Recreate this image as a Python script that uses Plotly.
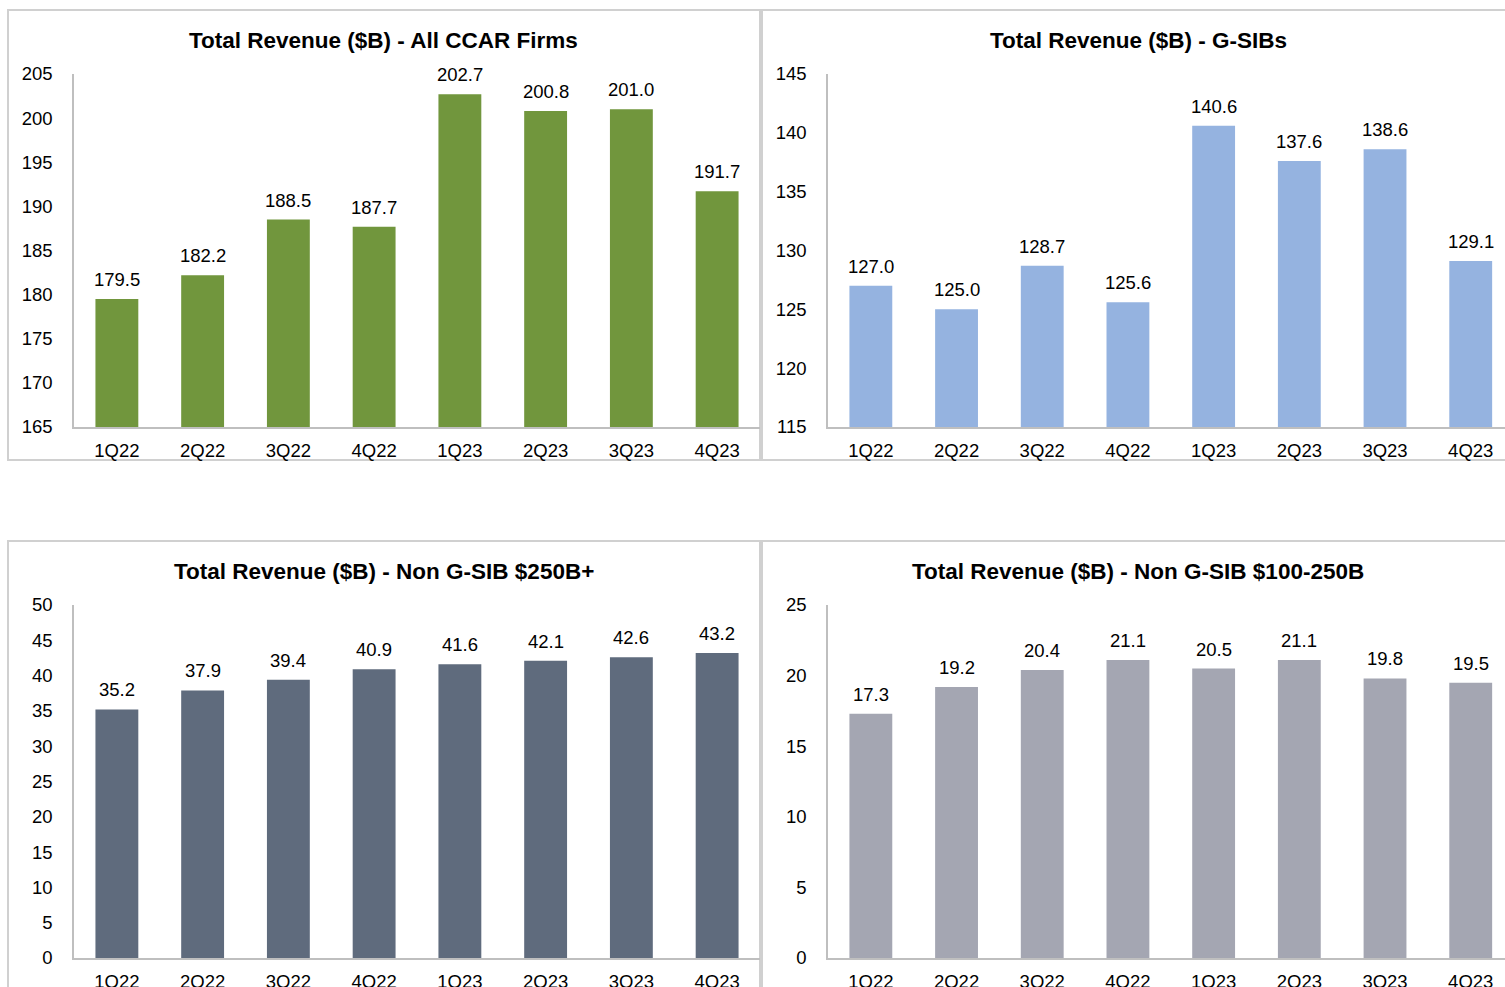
import plotly.graph_objects as go

W, H = 1505, 987

quarters = ["1Q22", "2Q22", "3Q22", "4Q22", "1Q23", "2Q23", "3Q23", "4Q23"]

all_ccar = [179.5, 182.2, 188.5, 187.7, 202.7, 200.8, 201.0, 191.7]
gsibs = [127.0, 125.0, 128.7, 125.6, 140.6, 137.6, 138.6, 129.1]
non_gsib_250 = [35.2, 37.9, 39.4, 40.9, 41.6, 42.1, 42.6, 43.2]
non_gsib_100 = [17.3, 19.2, 20.4, 21.1, 20.5, 21.1, 19.8, 19.5]

titles = [
    "Total Revenue ($B) - All CCAR Firms",
    "Total Revenue ($B) - G-SIBs",
    "Total Revenue ($B) - Non G-SIB $250B+",
    "Total Revenue ($B) - Non G-SIB $100-250B",
]

FONT = "Liberation Sans, Arial, sans-serif"

# panel setup: (values, color, y range, plot box in px: left, right, top, bottom, x range top, panel box)
panels = [
    (all_ccar, "#71963D", [165, 205], (74, 760, 74, 427), 7.5, (8, 760, 10, 460)),
    (gsibs, "#95B3E0", [115, 145], (828, 1505, 74, 427), 7.4, (762, 1514, 10, 460)),
    (non_gsib_250, "#5F6B7D", [0, 50], (74, 760, 605, 958), 7.5, (8, 760, 541, 1000)),
    (non_gsib_100, "#A4A6B2", [0, 25], (828, 1505, 605, 958), 7.4, (762, 1514, 541, 1000)),
]

fig = go.Figure()
layout = dict(
    width=W, height=H,
    margin=dict(l=0, r=0, t=0, b=0, autoexpand=False),
    paper_bgcolor="white", plot_bgcolor="white",
    showlegend=False,
    font=dict(family=FONT, size=18.5, color="#000000"),
    bargap=0.5,
)
shapes = []
annotations = []

for i, (vals, color, yr, box, xtop, pbox) in enumerate(panels):
    n = "" if i == 0 else str(i + 1)
    left, right, top, bottom = box
    fig.add_trace(go.Bar(
        x=quarters, y=vals, marker_color=color, marker_line_width=0,
        xaxis="x" + n, yaxis="y" + n, hoverinfo="x+y",
    ))
    layout["xaxis" + n] = dict(
        domain=[left / W, right / W], anchor="y" + n,
        range=[-0.5, xtop], showgrid=False, zeroline=False, automargin=False,
        showline=True, linecolor="#BFBFBF", linewidth=1.5,
        ticks="", ticklabelstandoff=6,
        tickfont=dict(size=18.5, color="#000000"),
    )
    layout["yaxis" + n] = dict(
        domain=[1 - bottom / H, 1 - top / H], anchor="x" + n,
        range=yr, dtick=5, showgrid=False, zeroline=False, automargin=False,
        showline=True, linecolor="#BFBFBF", linewidth=1.5,
        ticks="", ticklabelstandoff=16,
        tickfont=dict(size=18.5, color="#000000"),
    )
    for q, v in zip(quarters, vals):
        annotations.append(dict(
            x=q, y=v, xref="x" + n, yref="y" + n,
            text=f"{v:.1f}", showarrow=False,
            yanchor="bottom", yshift=7,
            font=dict(size=18.5, color="#000000"),
        ))
    pl, pr, pt, pb = pbox
    shapes.append(dict(
        type="rect", xref="paper", yref="paper",
        x0=pl / W, x1=pr / W, y0=1 - pb / H, y1=1 - pt / H,
        line=dict(color="#D0D0D0", width=2), fillcolor="rgba(0,0,0,0)",
        layer="below",
    ))
    annotations.append(dict(
        x=(pl + pr) / 2 / W, y=1 - (pt + 30) / H, xref="paper", yref="paper",
        text="<b>" + titles[i] + "</b>", showarrow=False,
        xanchor="center", yanchor="middle",
        font=dict(size=22.5, color="#000000"),
    ))

layout["shapes"] = shapes
layout["annotations"] = annotations
fig.update_layout(**layout)

# page body has a default 8px margin; drop it so the figure sits at the corner
fig.write_html("out.html", config={"displayModeBar": False},
               post_script="document.body.style.margin='0';")
